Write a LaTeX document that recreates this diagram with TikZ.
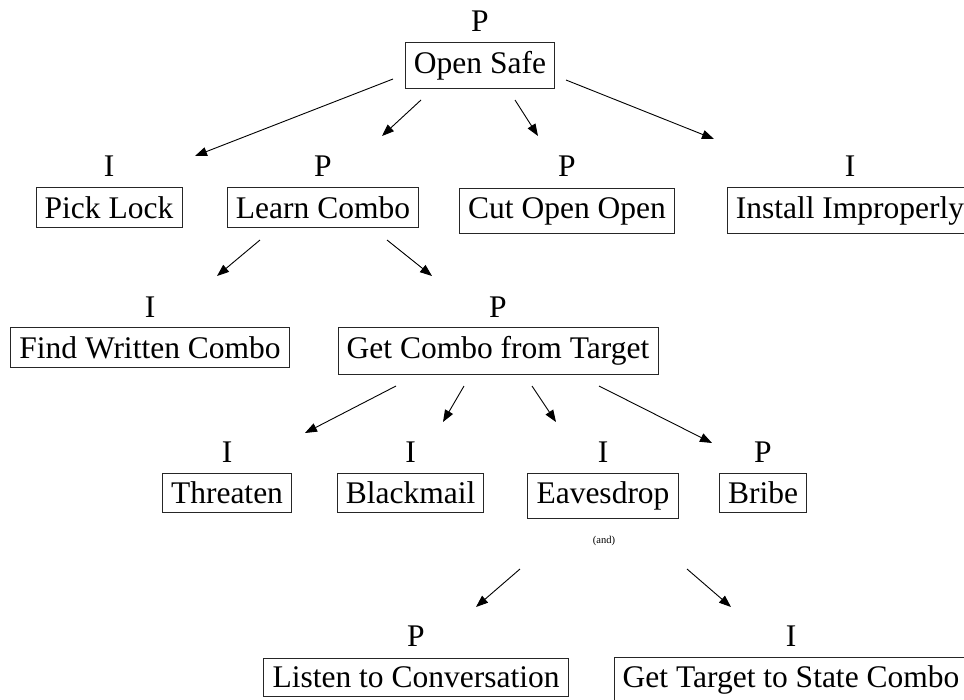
\documentclass[tikz,border=0pt]{standalone}
\usepackage{fontspec}
\setmainfont{Liberation Serif}
\usetikzlibrary{arrows.meta}
\begin{document}
\begin{tikzpicture}[x=1pt,y=-1pt,
  box/.style={draw=black!85,line width=0.9pt,inner sep=8.7pt,anchor=base,font=\fontsize{31.5}{37}\selectfont},
  lab/.style={inner sep=0pt,anchor=base,font=\fontsize{31.5}{37}\selectfont},
  small/.style={inner sep=0pt,anchor=base,font=\fontsize{10.5}{12}\selectfont},
  arr/.style={line width=0.9pt,-{Triangle[length=12pt,width=9pt]}}]
\useasboundingbox (0,0) rectangle (964,699);
% level 0
\node[lab] (l0) at (480,31) {P};
\node[box] (open) at (480,73) {Open Safe};
% level 1
\node[lab] (l1a) at (109,176) {I};
\node[box] (pick) at (109,218) {Pick Lock};
\node[lab] (l1b) at (323,176) {P};
\node[box] (learn) at (323,218) {Learn Combo};
\node[lab] (l1c) at (567,176) {P};
\node[box] (cut) at (567,218) {Cut Open Open};
\node[lab] (l1d) at (850,176) {I};
\node[box] (install) at (850,218) {Install Improperly};
% level 2
\node[lab] (l2a) at (150,317.5) {I};
\node[box] (find) at (150,358.5) {Find Written Combo};
\node[lab] (l2b) at (498,317.5) {P};
\node[box] (get) at (498,358.5) {Get Combo from Target};
% level 3
\node[lab] (l3a) at (227,462.5) {I};
\node[box] (threaten) at (227,503.5) {Threaten};
\node[lab] (l3b) at (410.5,462.5) {I};
\node[box] (blackmail) at (410.5,503.5) {Blackmail};
\node[lab] (l3c) at (603,462.5) {I};
\node[box] (eaves) at (603,503.5) {Eavesdrop};
\node[lab] (l3d) at (763,462.5) {P};
\node[box] (bribe) at (763,503.5) {Bribe};
\node[small] (and) at (604,543) {(and)};
% level 4
\node[lab] (l4a) at (416,646.5) {P};
\node[box] (listen) at (416,687.5) {Listen to Conversation};
\node[lab] (l4b) at (791,646.5) {I};
\node[box] (state) at (791,687.5) {Get Target to State Combo};
% connector end points
\coordinate (a1s) at (393,79);  \coordinate (a1e) at (195,156);
\coordinate (a2s) at (421,100); \coordinate (a2e) at (382,136);
\coordinate (a3s) at (515,100); \coordinate (a3e) at (538,136);
\coordinate (a4s) at (566,80);  \coordinate (a4e) at (714,139);
\coordinate (b1s) at (260,240); \coordinate (b1e) at (217,276);
\coordinate (b2s) at (387,240); \coordinate (b2e) at (432,276);
\coordinate (c1s) at (396,386); \coordinate (c1e) at (305,433);
\coordinate (c2s) at (464,386); \coordinate (c2e) at (443,422);
\coordinate (c3s) at (532,386); \coordinate (c3e) at (556,422);
\coordinate (c4s) at (599,386); \coordinate (c4e) at (712,443);
\coordinate (d1s) at (520,569); \coordinate (d1e) at (476,607);
\coordinate (d2s) at (687,569); \coordinate (d2e) at (731,607);
\foreach \a in {a1,a2,a3,a4,b1,b2,c1,c2,c3,c4,d1,d2}
  \draw[arr] (\a s) -- (\a e);
\end{tikzpicture}
\end{document}
